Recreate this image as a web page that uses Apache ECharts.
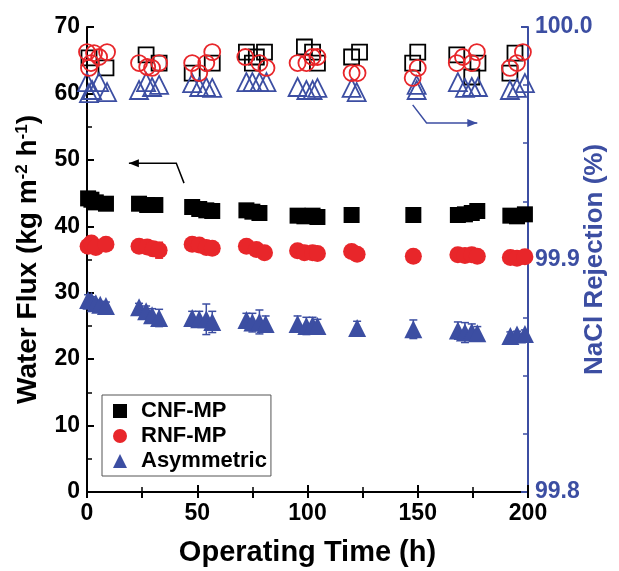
<!DOCTYPE html>
<html>
<head>
<meta charset="utf-8">
<script src="https://cdn.jsdelivr.net/npm/echarts@6/dist/echarts.min.js"></script>
<style>
  html, body { margin: 0; padding: 0; background: #fff; }
  #chart { width: 619px; height: 571px; }
</style>
</head>
<body>
<div id="chart"></div>
<script>
// water flux (left axis), kg m-2 h-1
var cnfTime = [0.5, 2, 4, 8.6, 23.6, 27.3, 31, 47.7, 50.9, 54.1, 56.8, 72.3, 75, 78.2, 95.5, 98.6, 102.3, 104.5, 120, 148, 168.2, 171.4, 174.5, 177, 192, 195, 198.6];
var cnfFlux = [44.2, 44.0, 43.6, 43.4, 43.4, 43.2, 43.2, 42.9, 42.6, 42.4, 42.3, 42.4, 42.2, 42.0, 41.6, 41.5, 41.6, 41.4, 41.7, 41.7, 41.7, 41.8, 42.0, 42.3, 41.6, 41.5, 41.8];
var cnfErr = [0.8, 0.6, 0.4, 0.4, 0.4, 0.4, 0.4, 0.4, 0.4, 0.4, 0.4, 0.4, 0.4, 0.4, 0.7, 0.8, 0.6, 0.5, 0.4, 0.6, 0.4, 0.5, 0.6, 0.8, 0.4, 0.4, 0.5];

var rnfTime = [0.5, 2, 4, 8.6, 23.6, 27.3, 30, 32.7, 47.7, 50.9, 54.1, 56.8, 72.3, 76.8, 80.5, 95.5, 98.6, 102.3, 104.5, 120, 122.5, 148, 168.2, 171.4, 174.5, 177, 192, 195, 198.6];
var rnfFlux = [37.0, 37.5, 36.8, 37.3, 37.0, 36.9, 36.6, 36.4, 37.3, 37.2, 36.8, 36.7, 37.0, 36.5, 36.0, 36.3, 36.0, 36.0, 35.9, 36.2, 35.8, 35.5, 35.7, 35.6, 35.7, 35.5, 35.3, 35.2, 35.4];
var rnfErr = [1.0, 0.8, 0.5, 0.5, 0.6, 0.8, 1.0, 1.2, 0.6, 0.8, 0.7, 0.5, 0.5, 0.6, 0.5, 0.8, 0.7, 0.5, 0.5, 0.4, 0.4, 0.4, 0.5, 0.6, 0.7, 0.5, 0.4, 0.4, 0.4];

var asymTime = [0.5, 2, 4, 6, 8.6, 23.6, 26.8, 29.5, 32.7, 47.7, 50.9, 54.1, 56.8, 72.3, 75, 78.2, 81, 95.5, 99.5, 102.3, 104.5, 122.5, 148, 168.2, 171.4, 174.5, 177, 192, 195, 198.6];
var asymFlux = [28.9, 28.8, 28.4, 28.2, 28.0, 27.8, 27.2, 26.6, 26.2, 26.2, 26.0, 26.0, 25.6, 25.9, 25.5, 25.6, 25.3, 25.3, 25.0, 25.1, 25.0, 24.7, 24.5, 24.3, 24.0, 24.1, 23.9, 23.5, 23.7, 23.8];
var asymErr = [0.8, 0.6, 0.5, 0.5, 0.6, 0.6, 0.8, 1.0, 1.3, 1.0, 1.2, 2.3, 1.6, 1.0, 1.4, 1.8, 1.2, 1.2, 1.3, 1.2, 1.0, 1.0, 1.4, 1.3, 1.5, 1.2, 1.0, 0.6, 0.5, 0.6];

// NaCl rejection (right axis), %
var cnfRejTime = [0.9, 8.6, 26.8, 32.7, 47.7, 56.8, 72.3, 75, 76.8, 80.5, 98.6, 102.3, 104.5, 120, 123.6, 147.7, 150, 167.7, 174.5, 177.3, 191.8, 194.1];
var cnfRej = [99.9867, 99.9824, 99.9880, 99.9845, 99.9802, 99.9845, 99.9892, 99.9845, 99.9871, 99.9892, 99.9914, 99.9892, 99.9845, 99.9871, 99.9892, 99.9845, 99.9892, 99.9880, 99.9785, 99.9845, 99.9802, 99.9888];

var rnfRejTime = [0, 3.2, 5.5, 9.1, 1.8, 0.9, 23.6, 27.3, 29.5, 32.7, 47.7, 50.9, 54.1, 56.8, 71.8, 78.2, 81.4, 95.5, 99.5, 102.3, 104.5, 120, 122.7, 150, 147.7, 167.7, 170.5, 174.5, 176.8, 191.8, 195, 197.7];
var rnfRej = [99.9892, 99.9888, 99.9871, 99.9892, 99.9845, 99.9824, 99.9845, 99.9828, 99.9824, 99.9845, 99.9845, 99.9802, 99.9845, 99.9892, 99.9871, 99.9845, 99.9824, 99.9845, 99.9845, 99.9871, 99.9871, 99.9802, 99.9802, 99.9824, 99.9781, 99.9845, 99.9871, 99.9845, 99.9892, 99.9824, 99.9845, 99.9892];

var asymRejTime = [0, 0.9, 2.3, 5.5, 9.1, 23.6, 26.8, 29.5, 32.7, 47.7, 50.9, 54.1, 56.8, 72.3, 75, 78.2, 81.4, 95.5, 99.5, 102.3, 104.5, 120, 122.3, 149.5, 149.5, 168.2, 171.4, 174.5, 177.3, 191.8, 195, 198.6];
var asymRej = [99.9763, 99.9716, 99.9729, 99.9763, 99.9720, 99.9729, 99.9763, 99.9742, 99.9751, 99.9759, 99.9742, 99.9742, 99.9738, 99.9763, 99.9763, 99.9763, 99.9763, 99.9742, 99.9729, 99.9729, 99.9738, 99.9738, 99.9720, 99.9751, 99.9729, 99.9763, 99.9738, 99.9742, 99.9742, 99.9729, 99.9738, 99.9759];

var seriesNames = ['CNF-MP', 'RNF-MP', 'Asymmetric'];

// annotation arrows, in data units [time, flux] / [time, rejection]
var leftArrow = [[44, 46.5], [40.5, 49.5], [19, 49.5]];
var rightArrow = [[147.7, 99.9665], [154, 99.9587], [177, 99.9587]];

var BLACK = '#000000';
var RED = '#e8262a';
var BLUE = '#3c4ea2';
var FONT = 'Liberation Sans';

function pairs(t, v) {
  return t.map(function (x, i) { return [x, v[i]]; });
}
function errData(t, v, e) {
  return t.map(function (x, i) { return [x, v[i] - e[i], v[i] + e[i]]; });
}
function errSeries(t, v, e, color) {
  return {
    type: 'custom',
    xAxisIndex: 0,
    yAxisIndex: 0,
    z: 1,
    silent: true,
    data: errData(t, v, e),
    encode: { x: 0, y: [1, 2] },
    renderItem: function (params, api) {
      var lo = api.coord([api.value(0), api.value(1)]);
      var hi = api.coord([api.value(0), api.value(2)]);
      var w = 4;
      var st = { stroke: color, lineWidth: 1.5 };
      return {
        type: 'group',
        children: [
          { type: 'line', shape: { x1: lo[0], y1: lo[1], x2: hi[0], y2: hi[1] }, style: st },
          { type: 'line', shape: { x1: lo[0] - w, y1: lo[1], x2: lo[0] + w, y2: lo[1] }, style: st },
          { type: 'line', shape: { x1: hi[0] - w, y1: hi[1], x2: hi[0] + w, y2: hi[1] }, style: st }
        ]
      };
    }
  };
}

var chart = echarts.init(document.getElementById('chart'), null, { renderer: 'canvas' });

var option = {
  backgroundColor: '#fff',
  animation: false,
  textStyle: { fontFamily: FONT },
  grid: { left: 87, right: 91, top: 27, bottom: 79, containLabel: false, outerBoundsMode: 'none' },
  legend: {
    data: seriesNames.map(function (n, i) {
      return { name: n, icon: ['rect', 'circle', 'triangle'][i] };
    }),
    orient: 'vertical',
    left: 102,
    top: 395,
    itemWidth: 14,
    itemHeight: 14,
    itemGap: 3,
    padding: [5, 4, 4, 11],
    borderColor: '#555',
    borderWidth: 1,
    textStyle: { fontFamily: FONT, fontSize: 22, fontWeight: 'bold', color: BLACK, padding: [0, 0, 0, 9] }
  },
  xAxis: [{
    type: 'value',
    min: 0,
    max: 200,
    interval: 50,
    name: 'Operating Time (h)',
    nameLocation: 'middle',
    nameGap: 46,
    nameTextStyle: { fontSize: 29, fontWeight: 'bold', color: BLACK, fontFamily: FONT },
    axisLine: { onZero: false, lineStyle: { color: BLACK, width: 2 } },
    axisTick: { inside: true, length: 7, lineStyle: { color: BLACK, width: 2 } },
    minorTick: { show: true, splitNumber: 2, length: 5, lineStyle: { color: BLACK, width: 1.5 } },
    axisLabel: { fontSize: 23, fontWeight: 'bold', color: BLACK, margin: 10, fontFamily: FONT },
    splitLine: { show: false }
  }, {
    type: 'value',
    position: 'top',
    min: 0,
    max: 200,
    interval: 25,
    axisLine: { show: true, lineStyle: { color: BLACK, width: 2 } },
    axisTick: { inside: true, length: 6, lineStyle: { color: BLACK, width: 2 } },
    axisLabel: { show: false },
    splitLine: { show: false }
  }],
  yAxis: [{
    type: 'value',
    min: 0,
    max: 70,
    interval: 10,
    name: '{t|Water Flux (kg m}{s|-2}{t| h}{s|-1}{t|)}',
    nameLocation: 'middle',
    nameMoveOverlap: false,
    nameGap: 44,
    nameTextStyle: {
      rich: {
        t: { fontSize: 28, fontWeight: 'bold', color: BLACK, fontFamily: FONT },
        s: { fontSize: 17, fontWeight: 'bold', color: BLACK, fontFamily: FONT, verticalAlign: 'top', padding: [0, 0, 12, 0] }
      }
    },
    axisLine: { show: true, onZero: false, lineStyle: { color: BLACK, width: 2 } },
    axisTick: { inside: true, length: 7, lineStyle: { color: BLACK, width: 2 } },
    minorTick: { show: true, splitNumber: 2, length: 5, lineStyle: { color: BLACK, width: 1.5 } },
    axisLabel: { fontSize: 23, fontWeight: 'bold', color: BLACK, margin: 7, fontFamily: FONT },
    splitLine: { show: false }
  }, {
    type: 'value',
    position: 'right',
    min: 99.8,
    max: 100.0,
    interval: 0.1,
    name: 'NaCl Rejection (%)',
    nameLocation: 'middle',
    nameMoveOverlap: false,
    nameGap: 54,
    nameRotate: 90,
    nameTextStyle: { fontSize: 26, fontWeight: 'bold', color: BLUE, fontFamily: FONT },
    axisLine: { show: true, onZero: false, lineStyle: { color: BLUE, width: 2 } },
    axisTick: { inside: true, length: 7, lineStyle: { color: BLUE, width: 2 } },
    minorTick: { show: true, splitNumber: 4, length: 5, lineStyle: { color: BLUE, width: 1.5 } },
    axisLabel: {
      fontSize: 23, fontWeight: 'bold', color: BLUE, margin: 7, fontFamily: FONT,
      formatter: function (v) { return v.toFixed(1); }
    },
    splitLine: { show: false }
  }],
  series: [
    errSeries(cnfTime, cnfFlux, cnfErr, BLACK),
    errSeries(rnfTime, rnfFlux, rnfErr, RED),
    errSeries(asymTime, asymFlux, asymErr, BLUE),
    {
      name: seriesNames[0], type: 'scatter', yAxisIndex: 0, z: 3,
      symbol: 'rect', symbolSize: 16,
      itemStyle: { color: BLACK, opacity: 1 },
      data: pairs(cnfTime, cnfFlux)
    },
    {
      name: seriesNames[1], type: 'scatter', yAxisIndex: 0, z: 3,
      symbol: 'circle', symbolSize: 17,
      itemStyle: { color: RED, opacity: 1 },
      data: pairs(rnfTime, rnfFlux)
    },
    {
      name: seriesNames[2], type: 'scatter', yAxisIndex: 0, z: 3,
      symbol: 'triangle', symbolSize: 18,
      itemStyle: { color: BLUE, opacity: 1 },
      data: pairs(asymTime, asymFlux)
    },
    {
      name: 'CNF-MP rejection', type: 'scatter', yAxisIndex: 1, z: 3,
      symbol: 'rect', symbolSize: 15,
      itemStyle: { color: 'rgba(0,0,0,0)', borderColor: BLACK, borderWidth: 1.8, opacity: 1 },
      data: pairs(cnfRejTime, cnfRej)
    },
    {
      name: 'RNF-MP rejection', type: 'scatter', yAxisIndex: 1, z: 4,
      symbol: 'circle', symbolSize: 16,
      itemStyle: { color: 'rgba(0,0,0,0)', borderColor: RED, borderWidth: 1.8, opacity: 1 },
      data: pairs(rnfRejTime, rnfRej)
    },
    {
      name: 'Asymmetric rejection', type: 'scatter', yAxisIndex: 1, z: 3,
      symbol: 'triangle', symbolSize: 18,
      itemStyle: { color: 'rgba(0,0,0,0)', borderColor: BLUE, borderWidth: 1.8, opacity: 1 },
      data: pairs(asymRejTime, asymRej)
    }
  ]
};

chart.setOption(option);

// arrows drawn from data coordinates
function arrowGraphic(pts, yIndex, color) {
  var px = pts.map(function (p) {
    return chart.convertToPixel({ xAxisIndex: 0, yAxisIndex: yIndex }, p);
  });
  var a = px[px.length - 2];
  var b = px[px.length - 1];
  var ang = Math.atan2(b[1] - a[1], b[0] - a[0]);
  var L = 10, W = 4;
  var head = [
    b,
    [b[0] - L * Math.cos(ang) + W * Math.sin(ang), b[1] - L * Math.sin(ang) - W * Math.cos(ang)],
    [b[0] - L * Math.cos(ang) - W * Math.sin(ang), b[1] - L * Math.sin(ang) + W * Math.cos(ang)]
  ];
  return [
    { type: 'polyline', shape: { points: px }, style: { stroke: color, lineWidth: 1.5, fill: null }, z: 10 },
    { type: 'polygon', shape: { points: head }, style: { fill: color }, z: 10 }
  ];
}

chart.setOption({
  graphic: arrowGraphic(leftArrow, 0, BLACK).concat(arrowGraphic(rightArrow, 1, BLUE))
});
</script>
</body>
</html>
